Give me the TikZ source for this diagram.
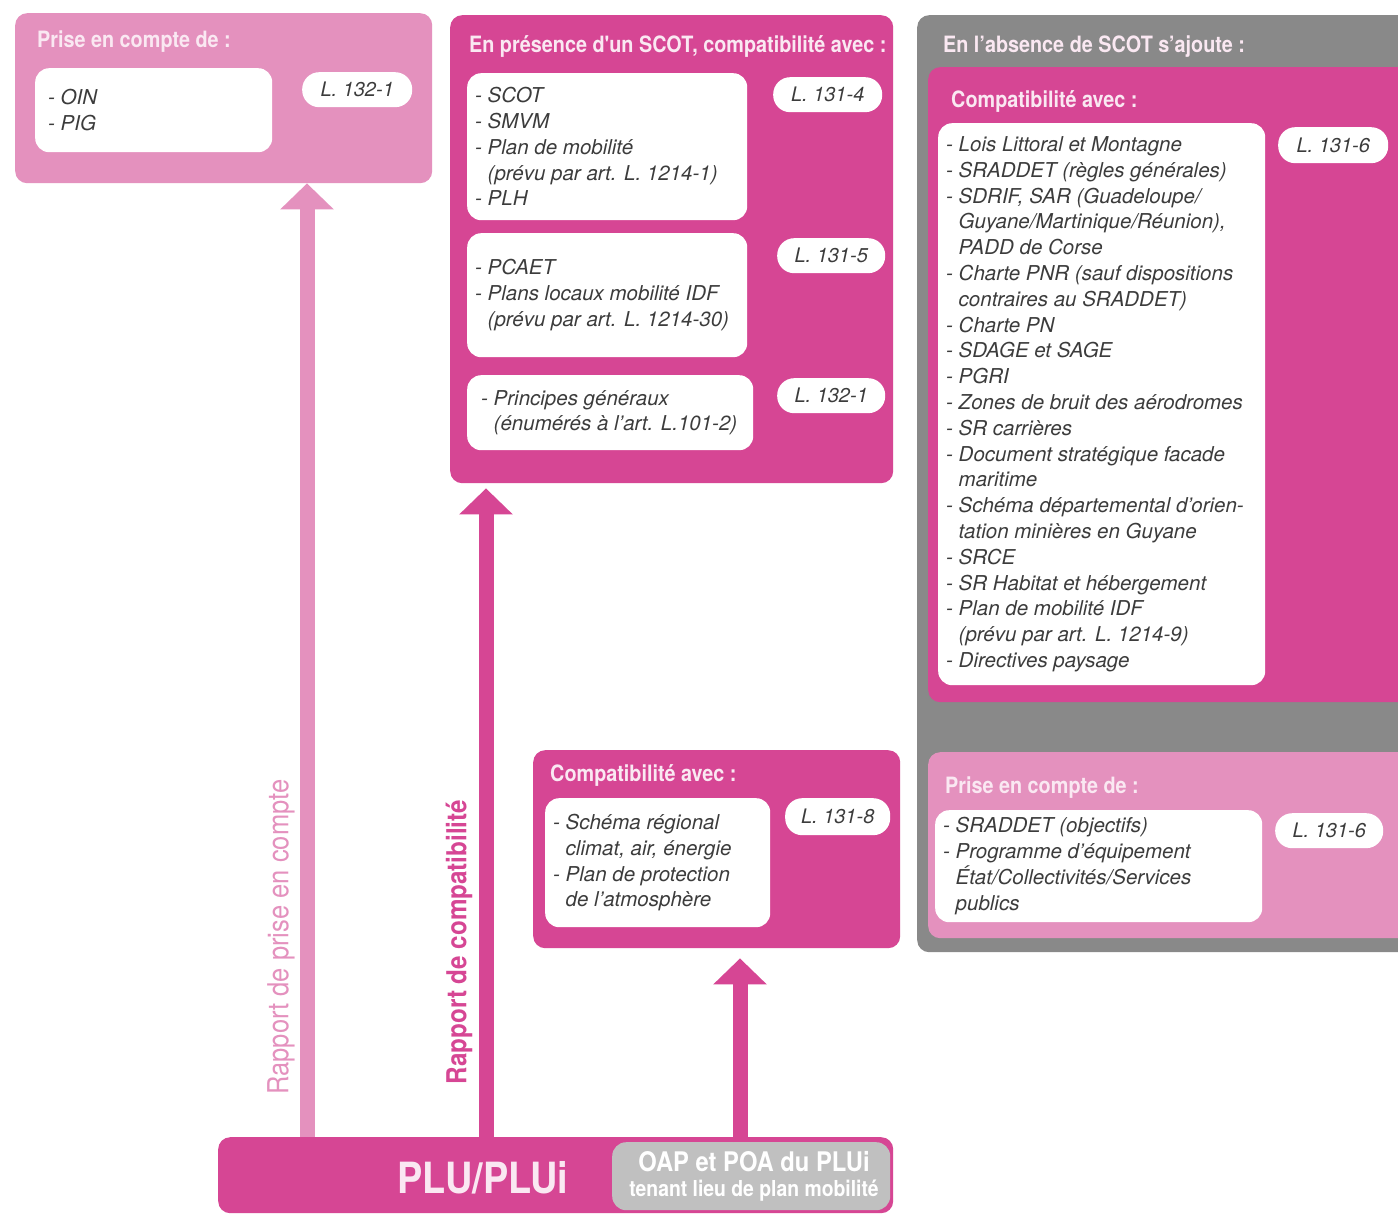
\documentclass[tikz,border=0pt]{standalone}
\usepackage{fontspec}
\setmainfont{TeX Gyre Heros}
\newfontfamily\condfont[FakeStretch=0.88]{TeX Gyre Heros}
\usetikzlibrary{arrows.meta}
\definecolor{mag}{RGB}{214,70,148}
\definecolor{lpink}{RGB}{228,145,190}
\definecolor{dgrey}{RGB}{137,137,137}
\definecolor{lgrey}{RGB}{192,192,192}
\definecolor{ttlc}{RGB}{250,232,242}
\definecolor{txt}{RGB}{60,60,60}
\newcommand{\hangi}{\hphantom{- }}
\begin{document}
\begin{tikzpicture}[x=1pt,y=-1pt,
  panel/.style={rounded corners=12pt, inner sep=0pt, anchor=north west, draw=none},
  wbox/.style={fill=white, rounded corners=14pt, inner sep=0pt, anchor=north west},
  pill/.style={fill=white, rounded corners=17pt, inner sep=0pt, anchor=north west, text=txt, font=\fontsize{20}{24}\selectfont\itshape},
  body/.style={anchor=west, align=left, inner sep=0pt, text=txt, font=\fontsize{20.5}{25.8}\selectfont\itshape},
  ttl/.style={anchor=base west, inner sep=0pt, text=ttlc, font=\condfont\bfseries\fontsize{22.5}{26}\selectfont},
  up/.style={line width=15pt, -{Triangle[width=52pt,length=26pt]}},
]
\useasboundingbox (0,0) rectangle (1398,1214);
\clip (0,0) rectangle (1398,1214);
\fill[white] (0,0) rectangle (1398,1214);

% ---- top-left panel
\node[panel, fill=lpink, minimum width=417, minimum height=170] (pA) at (15,13) {};
\node[ttl] (tA) at (37,48) {Prise en compte de :};
\node[wbox, minimum width=237, minimum height=84] (wA) at (35,68) {};
\node[body] (bA) at ([xshift=13]wA.west) {- OIN\\- PIG};
\node[pill, minimum width=110, minimum height=35] (lA) at (302,72) {L. 132-1};

% ---- middle panel
\node[panel, fill=mag, minimum width=443, minimum height=468] (pB) at (450,15) {};
\node[ttl] (tB) at (469,53) {En présence d'un SCOT, compatibilité avec :};
\node[wbox, minimum width=280, minimum height=147] (wB1) at (467,73) {};
\node[body] (bB1) at ([xshift=8]wB1.west) {- SCOT\\- SMVM\\- Plan de mobilité\\\hangi(prévu par art. L. 1214-1)\\- PLH};
\node[pill, minimum width=109, minimum height=35] (lB1) at (773,77) {L. 131-4};
\node[wbox, minimum width=280, minimum height=124] (wB2) at (467,233) {};
\node[body] (bB2) at ([xshift=8]wB2.west) {- PCAET\\- Plans locaux mobilité IDF\\\hangi(prévu par art. L. 1214-30)};
\node[pill, minimum width=108, minimum height=35] (lB2) at (777,238) {L. 131-5};
\node[wbox, minimum width=286, minimum height=75] (wB3) at (467,375) {};
\node[body] (bB3) at ([xshift=14]wB3.west) {- Principes généraux\\\hangi(énumérés à l’art. L.101-2)};
\node[pill, minimum width=108, minimum height=35] (lB3) at (777,378) {L. 132-1};

% ---- right grey panel
\node[panel, fill=dgrey, minimum width=500, minimum height=937] (pC) at (917,15) {};
\node[ttl] (tC) at (943,53) {En l’absence de SCOT s’ajoute :};
\node[panel, fill=mag, minimum width=490, minimum height=635] (pD) at (928,67) {};
\node[ttl] (tD) at (951,108) {Compatibilité avec :};
\node[wbox, minimum width=327, minimum height=562] (wD) at (938,123) {};
\node[body] (bD) at ([xshift=8]wD.west) {- Lois Littoral et Montagne\\- SRADDET (règles générales)\\- SDRIF, SAR (Guadeloupe/\\\hangi Guyane/Martinique/Réunion),\\\hangi PADD de Corse\\- Charte PNR (sauf dispositions\\\hangi contraires au SRADDET)\\- Charte PN\\- SDAGE et SAGE\\- PGRI\\- Zones de bruit des aérodromes\\- SR carrières\\- Document stratégique facade\\\hangi maritime\\- Schéma départemental d’orien-\\\hangi tation minières en Guyane\\- SRCE\\- SR Habitat et hébergement\\- Plan de mobilité IDF\\\hangi(prévu par art. L. 1214-9)\\- Directives paysage};
\node[pill, minimum width=110, minimum height=36] (lD) at (1278,127) {L. 131-6};
\node[panel, fill=lpink, minimum width=490, minimum height=186] (pE) at (928,752) {};
\node[ttl] (tE) at (945,793) {Prise en compte de :};
\node[wbox, minimum width=327, minimum height=112] (wE) at (935,810) {};
\node[body] (bE) at ([xshift=8]wE.west) {- SRADDET (objectifs)\\- Programme d’équipement\\\hangi État/Collectivités/Services\\\hangi publics};
\node[pill, minimum width=108, minimum height=35] (lE) at (1275,813) {L. 131-6};

% ---- bottom compatibility panel
\node[panel, fill=mag, minimum width=367, minimum height=198] (pF) at (533,750) {};
\node[ttl] (tF) at (550,781) {Compatibilité avec :};
\node[wbox, minimum width=225, minimum height=129] (wF) at (545,798) {};
\node[body] (bF) at ([xshift=8]wF.west) {- Schéma régional\\\hangi climat, air, énergie\\- Plan de protection\\\hangi de l’atmosphère};
\node[pill, minimum width=105, minimum height=37] (lF) at (785,798) {L. 131-8};

% ---- PLU panel
\node[panel, fill=mag, minimum width=675, minimum height=76] (plu) at (218,1137) {};
\node[panel, fill=lgrey, rounded corners=14pt, minimum width=278, minimum height=68] (oap) at (612,1142) {};

% ---- arrows
\coordinate (xa) at (307,0);
\coordinate (xb) at (486,0);
\coordinate (xc) at (740,0);
\draw[up, lpink] (plu.north -| xa) -- (pA.south -| xa);
\draw[up, mag, shorten >=5pt] (plu.north -| xb) -- (pB.south -| xb);
\draw[up, mag, shorten >=10pt] (oap.north -| xc) -- (pF.south -| xc);

\node[inner sep=0pt, text=ttlc, font=\condfont\bfseries\fontsize{43}{46}\selectfont] (plut) at (483,1178) {PLU/PLUi};
\node[inner sep=0pt, align=center, text=white, font=\condfont\bfseries\fontsize{27}{29}\selectfont] (oapt) at (754,1176) {OAP et POA du PLUi\\[-4pt]{\fontsize{22}{24}\selectfont tenant lieu de plan mobilité}};

% ---- arrow labels
\node[rotate=90, inner sep=0pt, text=lpink, font=\condfont\fontsize{29}{32}\selectfont] (ra) at (281,937) {Rapport de prise en compte};
\node[rotate=90, inner sep=0pt, text=mag, font=\condfont\bfseries\fontsize{27.5}{30}\selectfont] (rb) at (459,942) {Rapport de compatibilité};
\end{tikzpicture}
\end{document}
